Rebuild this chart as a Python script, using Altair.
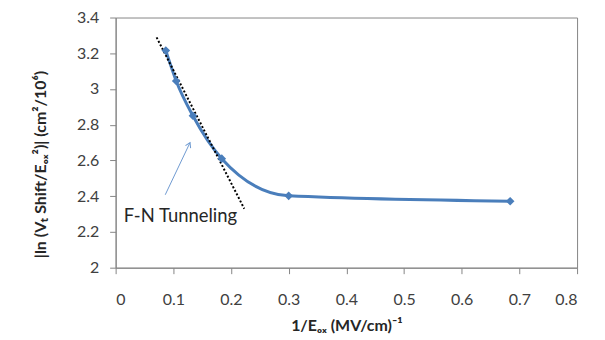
import altair as alt
import pandas as pd

# Data
inv_e = [0.087, 0.105, 0.134, 0.184, 0.300, 0.684]
ln_val = [3.215, 3.045, 2.850, 2.610, 2.402, 2.372]

trend_x = [0.071, 0.223]
trend_y = [3.289, 2.330]

arrow_x = [0.086, 0.129]
arrow_y = [2.408, 2.700]

label_x = [0.014]
label_y = [2.29]
label_txt = ["F-N Tunneling"]

x_ticks = [0, 0.1, 0.2, 0.3, 0.4, 0.5, 0.6, 0.7, 0.8]
y_ticks = [2, 2.2, 2.4, 2.6, 2.8, 3, 3.2, 3.4]

FONT = "Lato"
BLUE = "#4A7EBB"

df = pd.DataFrame({"x": inv_e, "y": ln_val})
df_trend = pd.DataFrame({"x": trend_x, "y": trend_y})
df_arrow = pd.DataFrame({"x": arrow_x, "y": arrow_y})
df_head = pd.DataFrame({"x": [arrow_x[1]], "y": [arrow_y[1]]})
df_label = pd.DataFrame({"x": label_x, "y": label_y, "t": label_txt})

xs = alt.Scale(domain=[0, 0.8], nice=False)
ys = alt.Scale(domain=[2, 3.4], nice=False, zero=False)

xaxis = alt.Axis(values=x_ticks, format="~g", title="1/Eₒₓ (MV/cm)⁻¹",
                 grid=False, labelOverlap=False)
yaxis = alt.Axis(values=y_ticks, format="~g", title="|ln (Vₜ Shift/Eₒₓ²)| (cm²/10⁶)",
                 grid=False, labelOverlap=False, titleY=147)

X = alt.X("x:Q", scale=xs, axis=xaxis)
Y = alt.Y("y:Q", scale=ys, axis=yaxis)

line = alt.Chart(df).mark_line(interpolate="monotone", color=BLUE, strokeWidth=3).encode(x=X, y=Y)
pts = alt.Chart(df).mark_point(shape="diamond", filled=True, color=BLUE, size=75, opacity=1).encode(x=X, y=Y)
trend = alt.Chart(df_trend).mark_line(color="black", strokeWidth=2, strokeDash=[2, 2]).encode(x=X, y=Y)
arrow = alt.Chart(df_arrow).mark_line(color="#6F9BD1", strokeWidth=1).encode(x=X, y=Y)
head = alt.Chart(df_head).mark_point(
    shape="M -0.6 1 L 0 0 L 0.6 1", filled=False, color="#6F9BD1", strokeWidth=1,
    size=90, angle=25, opacity=1
).encode(x=X, y=Y)
label = alt.Chart(df_label).mark_text(align="left", baseline="middle", font=FONT,
                                      fontSize=18.5, color="#262626").encode(x=X, y=Y, text="t:N")

chart = (line + trend + pts + arrow + head + label).properties(
    width=463, height=251,
    autosize=alt.AutoSizeParams(type="none"),
    padding={"left": 108, "top": 9, "right": 20, "bottom": 72},
).configure_view(stroke="#868686", strokeWidth=1).configure_axis(
    domainColor="#868686", tickColor="#868686", tickSize=6, labelOverlap=False, labelBound=False,
    labelFont=FONT, labelFontSize=16, labelColor="#404040",
    titleFont=FONT, titleFontSize=16, titleColor="#262626", titleFontWeight="bold",
).configure_axisX(labelPadding=18, titlePadding=10).configure_axisY(labelPadding=11, titlePadding=28)

chart.save("out.html", embed_options={"renderer": "svg", "actions": False})
